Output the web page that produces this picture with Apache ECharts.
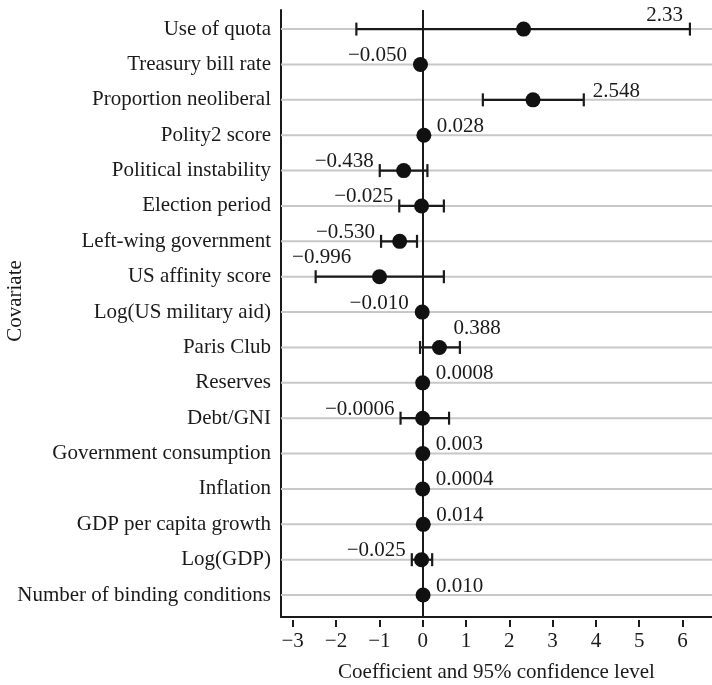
<!DOCTYPE html>
<html>
<head>
<meta charset="utf-8">
<script src="https://cdn.jsdelivr.net/npm/echarts@6/dist/echarts.min.js"></script>
<style>
html,body{margin:0;padding:0;background:#fff;}
#chart{width:712px;height:685px;}
</style>
</head>
<body>
<div id="chart"></div>
<script>
const categories = ['Use of quota','Treasury bill rate','Proportion neoliberal','Polity2 score','Political instability','Election period','Left-wing government','US affinity score','Log(US military aid)','Paris Club','Reserves','Debt/GNI','Government consumption','Inflation','GDP per capita growth','Log(GDP)','Number of binding conditions'];
const estimates = [2.33, -0.050, 2.548, 0.028, -0.438, -0.025, -0.530, -0.996, -0.010, 0.388, 0.0008, -0.0006, 0.003, 0.0004, 0.014, -0.025, 0.010];
const ciLower = [-1.53, null, 1.39, null, -0.99, -0.54, -0.96, -2.47, null, -0.06, null, -0.51, null, null, null, -0.25, null];
const ciUpper = [6.17, null, 3.72, null, 0.11, 0.49, -0.13, 0.49, null, 0.86, null, 0.61, null, null, null, 0.22, null];
const valueLabels = ['2.33','\u22120.050','2.548','0.028','\u22120.438','\u22120.025','\u22120.530','\u22120.996','\u22120.010','0.388','0.0008','\u22120.0006','0.003','0.0004','0.014','\u22120.025','0.010'];
const xTickValues = [-3, -2, -1, 0, 1, 2, 3, 4, 5, 6];
const xAxisTitle = 'Coefficient and 95% confidence level';
const yAxisTitle = 'Covariate';

// label placement styles (not data)
const labelModes = ['ciRin','l','ciR','r','l','l','l','ciLup','l','rUp','r','l','r','r','r','l','r'];

const FONT = '"Liberation Serif", "Times New Roman", serif';
const FS = 21;
const X_MIN = -3.27, X_MAX = 6.68;
const Y_MIN = -0.54, Y_MAX = 16.62;
const rowIdx = categories.map((c, i) => i);

const chart = echarts.init(document.getElementById('chart'), null, {renderer: 'canvas'});

function renderRows(params, api) {
  const i = api.value(0);
  const a = api.coord([X_MIN, i]);
  const b = api.coord([X_MAX, i]);
  return {type: 'line', shape: {x1: a[0], y1: a[1], x2: b[0], y2: b[1]}, style: {stroke: '#c8c8c8', lineWidth: 2}, silent: true};
}

function renderEst(params, api) {
  const idx = params.dataIndex;
  const v = api.value(0);
  const row = api.value(1);
  const p = api.coord([v, row]);
  const children = [];
  const lo = ciLower[idx], hi = ciUpper[idx];
  let loX = null, hiX = null;
  const cap = 6.5;
  if (lo !== null && hi !== null) {
    loX = api.coord([lo, row])[0];
    hiX = api.coord([hi, row])[0];
    const st = {stroke: '#1a1a1a', lineWidth: 2.2};
    children.push({type: 'line', shape: {x1: loX, y1: p[1], x2: hiX, y2: p[1]}, style: st});
    children.push({type: 'line', shape: {x1: loX, y1: p[1] - cap, x2: loX, y2: p[1] + cap}, style: st});
    children.push({type: 'line', shape: {x1: hiX, y1: p[1] - cap, x2: hiX, y2: p[1] + cap}, style: st});
  }
  const r = 7.5;
  children.push({type: 'circle', shape: {cx: p[0], cy: p[1], r: r}, style: {fill: '#111'}});
  const mode = labelModes[idx];
  let tx, ty = p[1] - 9, align = 'left';
  if (mode === 'r') { tx = p[0] + 13; }
  else if (mode === 'rUp') { tx = p[0] + 14; ty = p[1] - 19; }
  else if (mode === 'l') { tx = Math.min(loX === null ? Infinity : loX, p[0] - r) - 6; align = 'right'; }
  else if (mode === 'ciR') { tx = hiX + 9; ty = p[1] - 8; }
  else if (mode === 'ciRin') { tx = hiX - 7; ty = p[1] - 14; align = 'right'; }
  else if (mode === 'ciLup') { tx = loX + 6; ty = p[1] - 19; align = 'center'; }
  children.push({type: 'text', x: tx, y: ty, style: {text: valueLabels[idx], fill: '#1a1a1a', font: FS + 'px ' + FONT, align: align, verticalAlign: 'middle', textAlign: align, textVerticalAlign: 'middle'}});
  return {type: 'group', children: children};
}

const option = {
  backgroundColor: '#ffffff',
  animation: false,
  grid: {left: 281, right: 0, top: 10, bottom: 68, containLabel: false, outerBoundsMode: 'none'},
  graphic: [
    {type: 'text', x: 15, y: 301, rotation: Math.PI / 2, silent: true,
     style: {text: yAxisTitle, fill: '#1a1a1a', font: FS + 'px ' + FONT, align: 'center', verticalAlign: 'middle', textAlign: 'center', textVerticalAlign: 'middle'}}
  ],
  xAxis: [
    {type: 'value', min: X_MIN, max: X_MAX, position: 'bottom',
     axisLine: {show: true, onZero: false, lineStyle: {color: '#1a1a1a', width: 2}},
     axisTick: {show: false}, axisLabel: {show: false}, splitLine: {show: false}},
    {type: 'value', min: X_MIN, max: X_MAX, position: 'bottom', offset: 3,
     axisLine: {show: false, onZero: false},
     axisTick: {show: true, length: 7, customValues: xTickValues, lineStyle: {color: '#1a1a1a', width: 2}},
     axisLabel: {show: true, customValues: xTickValues, margin: 11, color: '#1a1a1a', fontFamily: FONT, fontSize: FS,
       formatter: v => String(v).replace('-', '\u2212')},
     splitLine: {show: false},
     name: xAxisTitle, nameLocation: 'middle', nameGap: 42,
     nameTextStyle: {color: '#1a1a1a', fontFamily: FONT, fontSize: FS}}
  ],
  yAxis: {type: 'value', inverse: true, min: Y_MIN, max: Y_MAX,
    axisLine: {show: true, onZero: false, lineStyle: {color: '#1a1a1a', width: 2}},
    axisTick: {show: false},
    axisLabel: {show: true, customValues: rowIdx, margin: 10, color: '#1a1a1a', fontFamily: FONT, fontSize: FS,
      formatter: v => categories[Math.round(v)]},
    splitLine: {show: false}},
  series: [
    {type: 'custom', name: 'rows', xAxisIndex: 0, z: 1, silent: true,
     data: rowIdx.map(i => [i]), encode: {y: 0},
     renderItem: renderRows,
     markLine: {silent: true, symbol: 'none', label: {show: false},
       lineStyle: {color: '#1a1a1a', width: 2, type: 'solid'}, data: [{xAxis: 0}]}},
    {type: 'custom', name: 'estimates', xAxisIndex: 0, z: 5,
     data: estimates.map((v, i) => [v, i]), encode: {x: 0, y: 1},
     renderItem: renderEst}
  ]
};
chart.setOption(option);
</script>
</body>
</html>
